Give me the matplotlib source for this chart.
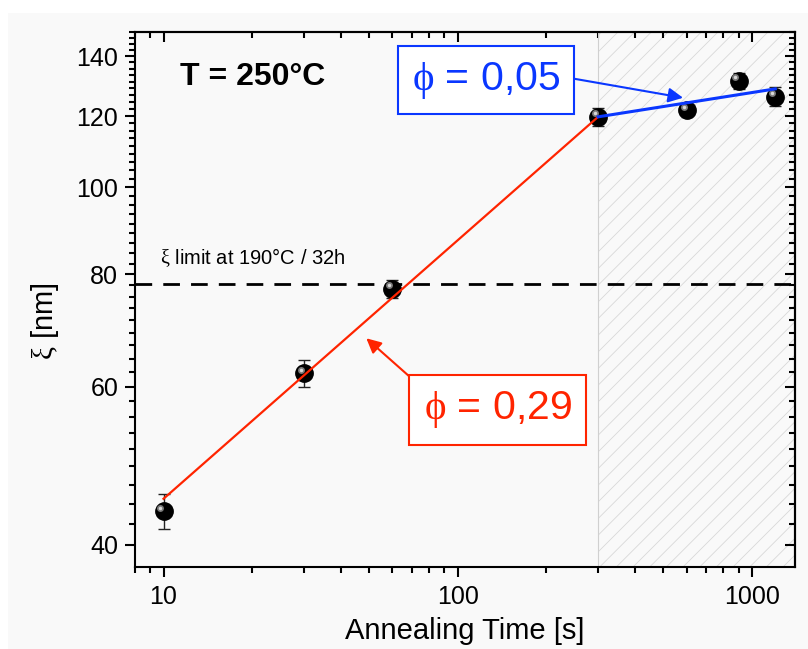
import numpy as np
import matplotlib
matplotlib.use("Agg")
import matplotlib.pyplot as plt
from matplotlib.patches import Rectangle
from matplotlib.transforms import ScaledTranslation
from matplotlib.ticker import FixedLocator, NullFormatter, LogLocator

plt.rcParams['font.family'] = ['Liberation Sans', 'DejaVu Sans']
plt.rcParams['mathtext.fontset'] = 'custom'
plt.rcParams['mathtext.rm'] = 'Liberation Serif'
plt.rcParams['mathtext.it'] = 'Liberation Serif'
plt.rcParams['hatch.linewidth'] = 0.6

# Measured crystallite size vs annealing time
times = [10, 30, 60, 300, 600, 900, 1200]
xi = [43.6, 62.1, 77.1, 119.8, 121.8, 131.4, 126.2]
xi_err = [2.0, 2.1, 1.8, 2.7, 1.5, 2.8, 3.0]

# Power law fits (straight lines on log-log)
red_fit_x = [10, 300]
red_fit_y = [45.0, 119.8]
blue_fit_x = [300, 1200]
blue_fit_y = [119.8, 128.7]

xi_limit = 78.0
hatch_start = 300

x_ticks = [10, 100, 1000]
y_ticks = [40, 60, 80, 100, 120, 140]

red = '#ff2400'
blue = '#0a37ff'

fig = plt.figure(figsize=(8.08, 6.49), dpi=100, facecolor='white')
# light grey page area
fig.patches.append(Rectangle((8 / 808, 0), 1, 1 - 13 / 649, transform=fig.transFigure,
                             facecolor='#f9f9f9', edgecolor='none', zorder=-10))
ax = fig.add_axes([135 / 808, 1 - 567 / 649, 660 / 808, 535 / 649])
ax.set_facecolor('#f9f9f9')

ax.set_xscale('log')
ax.set_yscale('log')
ax.set_xlim(8, 1400)
ax.set_ylim(37.78, 148.9)

# hatched region
ax.axvspan(hatch_start, 1400, facecolor='none', edgecolor='#d8d8d8', hatch='//', lw=0, zorder=0)
ax.axvline(hatch_start, color='#d0d0d0', lw=0.8, zorder=0.5)

# limit line
ax.axhline(xi_limit, color='black', lw=2, dashes=(6, 4), zorder=2)

# data with error bars
ax.errorbar(times, xi, yerr=xi_err, fmt='none', ecolor='#222222', elinewidth=1,
            capsize=4, capthick=1, zorder=3)
ax.plot(times, xi, 'o', ms=12.5, color='black', zorder=4)
hl = ax.transData + ScaledTranslation(-2.2 / 72, 2.4 / 72, fig.dpi_scale_trans)
ax.plot(times, xi, 'o', ms=5, color='#7a7a7a', mew=0, transform=hl, zorder=5)
ax.plot(times, xi, 'o', ms=2.5, color='#d8d8d8', mew=0, transform=hl, zorder=5)

# fits
ax.plot(red_fit_x, red_fit_y, color=red, lw=1.6, zorder=6)
ax.plot(blue_fit_x, blue_fit_y, color=blue, lw=2.2, zorder=6)

# ticks
ax.xaxis.set_major_locator(FixedLocator(x_ticks))
ax.xaxis.set_minor_locator(LogLocator(base=10, subs=np.arange(2, 10)))
ax.set_xticklabels([str(t) for t in x_ticks])
ax.xaxis.set_minor_formatter(NullFormatter())
ax.yaxis.set_major_locator(FixedLocator(y_ticks))
ax.yaxis.set_minor_locator(FixedLocator(np.arange(40 - 20 / 9, 150, 20 / 9)))
ax.set_yticklabels([str(t) for t in y_ticks])
ax.yaxis.set_minor_formatter(NullFormatter())

ax.tick_params(which='both', labelsize=18, width=1.5, direction='out')
ax.tick_params(which='major', length=7)
ax.tick_params(which='minor', length=4.5)
ax.tick_params(axis='y', which='major', pad=5)
ax.tick_params(axis='x', which='major', pad=6)
for spine in ax.spines.values():
    spine.set_linewidth(1.5)

# top/right ticks pointing inward
axt = ax.secondary_xaxis('top')
axt.xaxis.set_major_locator(FixedLocator(x_ticks))
axt.xaxis.set_minor_locator(LogLocator(base=10, subs=np.arange(2, 10)))
axt.tick_params(which='both', direction='in', width=1.5, labeltop=False)
axt.tick_params(which='major', length=7)
axt.tick_params(which='minor', length=4.5)
axt.spines['top'].set_linewidth(1.5)
axr = ax.secondary_yaxis('right')
axr.yaxis.set_major_locator(FixedLocator(y_ticks))
axr.yaxis.set_minor_locator(FixedLocator(np.arange(40 - 20 / 9, 150, 20 / 9)))
axr.tick_params(which='both', direction='in', width=1.5, labelright=False)
axr.tick_params(which='major', length=7)
axr.tick_params(which='minor', length=4.5)
axr.spines['right'].set_linewidth(1.5)

ax.set_xlabel('Annealing Time [s]', fontsize=21)
ax.xaxis.set_label_coords(0.5, -0.093)
ax.set_ylabel(r'$\mathrm{\xi}$ [nm]', fontsize=21)
ax.yaxis.set_label_coords(-0.112, 0.46)

ax.text(0.068, 0.916, 'T = 250°C', transform=ax.transAxes, fontsize=23,
        fontweight='bold', va='center', ha='left')
ax.text(0.038, 0.579, r'$\mathrm{\xi}$ limit at 190°C / 32h', transform=ax.transAxes,
        fontsize=14.5, va='center', ha='left')

# annotations
ax.annotate(r'$\mathrm{\phi}$ = 0,05', xy=(583, 125.8), xycoords='data',
            xytext=(0.532, 0.9095), textcoords='axes fraction',
            fontsize=29.5, color=blue, ha='center', va='center',
            bbox=dict(boxstyle='square,pad=0.33', fc='white', ec=blue, lw=1.5),
            arrowprops=dict(arrowstyle='-|>', color=blue, lw=1.5, mutation_scale=22,
                            relpos=(1, 0.6), shrinkA=0, shrinkB=0),
            zorder=7)
ax.annotate(r'$\mathrm{\phi}$ = 0,29', xy=(48.9, 67.9), xycoords='data',
            xytext=(0.5498, 0.294), textcoords='axes fraction',
            fontsize=29.5, color=red, ha='center', va='center',
            bbox=dict(boxstyle='square,pad=0.35', fc='white', ec=red, lw=1.5),
            arrowprops=dict(arrowstyle='-|>', color=red, lw=1.5, mutation_scale=22,
                            relpos=(0, 1), shrinkA=0, shrinkB=0),
            zorder=7)

fig.savefig('out.png', dpi=100, facecolor=fig.get_facecolor())
